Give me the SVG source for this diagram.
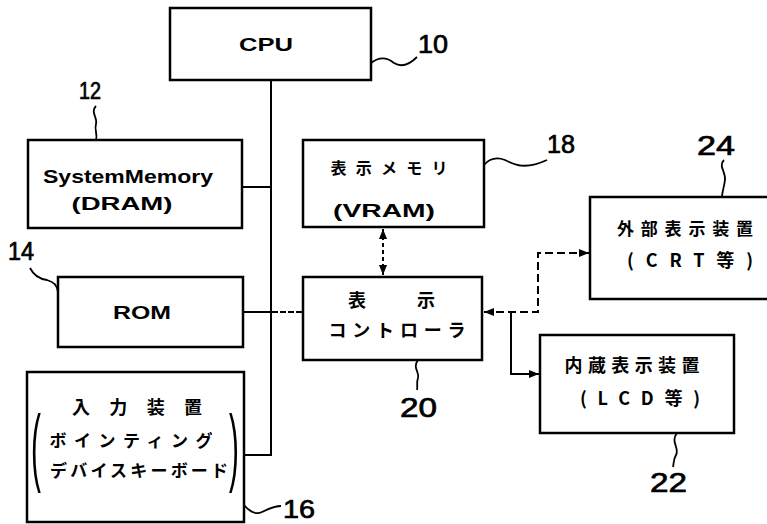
<svg xmlns="http://www.w3.org/2000/svg" width="767" height="524" viewBox="0 0 767 524">
<style>
.box{fill:#fff;stroke:#000;stroke-width:2.5}
.ln{fill:none;stroke:#000;stroke-width:2}
.dash{fill:none;stroke:#000;stroke-width:2;stroke-dasharray:8,4}
.sq{fill:none;stroke:#000;stroke-width:1.8}
.en{font-family:"Liberation Sans",Arial,sans-serif;font-weight:bold;fill:#000}
.jp{font-family:"Noto Sans CJK JP","Noto Sans",sans-serif;font-weight:bold;fill:#000}
.num{font-family:"Liberation Sans",Arial,sans-serif;fill:#000;stroke:#000;stroke-width:0.7}
.par{font-family:"Liberation Sans",Arial,sans-serif;fill:#000}
</style>
<defs>
<marker id="ah" viewBox="0 0 10 8" refX="10" refY="4" markerWidth="10" markerHeight="8" markerUnits="userSpaceOnUse" orient="auto-start-reverse">
<path d="M0,0 L10,4 L0,8 Z" fill="#000"/>
</marker>
</defs>
<rect width="767" height="524" fill="#fff"/>

<g id="connectors">
<path class="ln" d="M271,80 V455 H244"/>
<path class="ln" d="M242,187 H271"/>
<path class="ln" d="M243,312 H272"/>
<path class="ln" d="M272,312 H303" stroke-dasharray="6,2"/>
<path class="ln" d="M383,229 V275" stroke-dasharray="4,3" marker-start="url(#ah)" marker-end="url(#ah)"/>
<path class="dash" d="M484,312 H538 V253 H589" marker-start="url(#ah)" marker-end="url(#ah)"/>
<path class="ln" d="M511,313 V374 H539" marker-end="url(#ah)"/>
</g>

<g id="n10">
<rect class="box" x="170" y="8" width="201" height="72"/>
<text class="en" x="266" y="51" font-size="18" text-anchor="middle" textLength="54" lengthAdjust="spacingAndGlyphs">CPU</text>
<path class="sq" d="M371,63 C380,56 388,58 394,63 C402,68 410,64 417,57"/>
<text class="num" x="418" y="53" font-size="25" textLength="30" lengthAdjust="spacingAndGlyphs">10</text>
</g>

<g id="n12">
<rect class="box" x="28" y="140" width="214" height="88"/>
<text class="en" x="128" y="183" font-size="18" text-anchor="middle" textLength="170" lengthAdjust="spacingAndGlyphs">SystemMemory</text>
<text class="en" x="122" y="210" font-size="18" text-anchor="middle" textLength="101" lengthAdjust="spacingAndGlyphs">(DRAM)</text>
<path class="sq" d="M96,106 C90,112 98,118 96,124 C94,130 98,134 96,140"/>
<text class="num" x="79" y="99" font-size="23" textLength="22" lengthAdjust="spacingAndGlyphs">12</text>
</g>

<g id="n14">
<rect class="box" x="58" y="277" width="185" height="70"/>
<text class="en" x="142" y="319" font-size="19" text-anchor="middle" textLength="58" lengthAdjust="spacingAndGlyphs">ROM</text>
<path class="sq" d="M30,268 C34,276 40,279 47,280 C54,282 57,285 58,292"/>
<text class="num" x="8" y="260" font-size="25" textLength="26" lengthAdjust="spacingAndGlyphs">14</text>
</g>

<g id="n16">
<rect class="box" x="27" y="372" width="217" height="150"/>
<text class="jp" x="137" y="414" font-size="18" text-anchor="middle" textLength="130" lengthAdjust="spacing">入力装置</text>
<text class="jp" x="131" y="447" font-size="17" text-anchor="middle" textLength="163" lengthAdjust="spacing">ボインティング</text>
<text class="jp" x="139" y="477" font-size="17" text-anchor="middle" textLength="178" lengthAdjust="spacing">デバイスキーボード</text>
<text class="par" transform="translate(31,475) scale(0.35,1)" font-size="85">(</text>
<text class="par" transform="translate(229,475) scale(0.35,1)" font-size="85">)</text>
<path class="sq" d="M244,505 C250,512 256,515 262,512 C268,509 274,506 281,506"/>
<text class="num" x="283" y="518" font-size="25" textLength="32" lengthAdjust="spacingAndGlyphs">16</text>
</g>

<g id="n18">
<rect class="box" x="303" y="140" width="181" height="87"/>
<text class="jp" x="389" y="174" font-size="16" text-anchor="middle" textLength="117" lengthAdjust="spacing">表示メモリ</text>
<text class="en" x="384" y="217" font-size="19" text-anchor="middle" textLength="102" lengthAdjust="spacingAndGlyphs">(VRAM)</text>
<path class="sq" d="M484,165 C490,158 497,157 505,160 C515,165 525,170 547,160"/>
<text class="num" x="547" y="153" font-size="25" textLength="28" lengthAdjust="spacingAndGlyphs">18</text>
</g>

<g id="n20">
<rect class="box" x="303" y="277" width="179" height="83"/>
<text class="jp" x="357" y="307" font-size="18" text-anchor="middle">表</text>
<text class="jp" x="426" y="307" font-size="18" text-anchor="middle">示</text>
<text class="jp" x="397" y="337" font-size="18" text-anchor="middle" textLength="137" lengthAdjust="spacing">コントローラ</text>
<path class="sq" d="M418,360 C412,368 420,372 418,378 C416,383 418,386 417,390"/>
<text class="num" x="400" y="417" font-size="27" textLength="37" lengthAdjust="spacingAndGlyphs">20</text>
</g>

<g id="n24">
<rect class="box" x="590" y="197" width="190" height="102"/>
<text class="jp" x="685" y="235" font-size="17" text-anchor="middle" textLength="136" lengthAdjust="spacing">外部表示装置</text>
<text class="jp" x="690" y="267" font-size="18" text-anchor="middle" textLength="126" lengthAdjust="spacing">(CRT等)</text>
<path class="sq" d="M724,160 C718,166 726,172 725,180 C724,188 722,192 722,197"/>
<text class="num" x="697" y="155" font-size="27" textLength="38" lengthAdjust="spacingAndGlyphs">24</text>
</g>

<g id="n22">
<rect class="box" x="540" y="335" width="194" height="98"/>
<text class="jp" x="632" y="372" font-size="18" text-anchor="middle" textLength="135" lengthAdjust="spacing">内蔵表示装置</text>
<text class="jp" x="640" y="405" font-size="18" text-anchor="middle" textLength="120" lengthAdjust="spacing">(LCD等)</text>
<path class="sq" d="M677,433 C670,442 680,448 676,455 C673,460 674,463 673,467"/>
<text class="num" x="650" y="492" font-size="28" textLength="37" lengthAdjust="spacingAndGlyphs">22</text>
</g>
</svg>
